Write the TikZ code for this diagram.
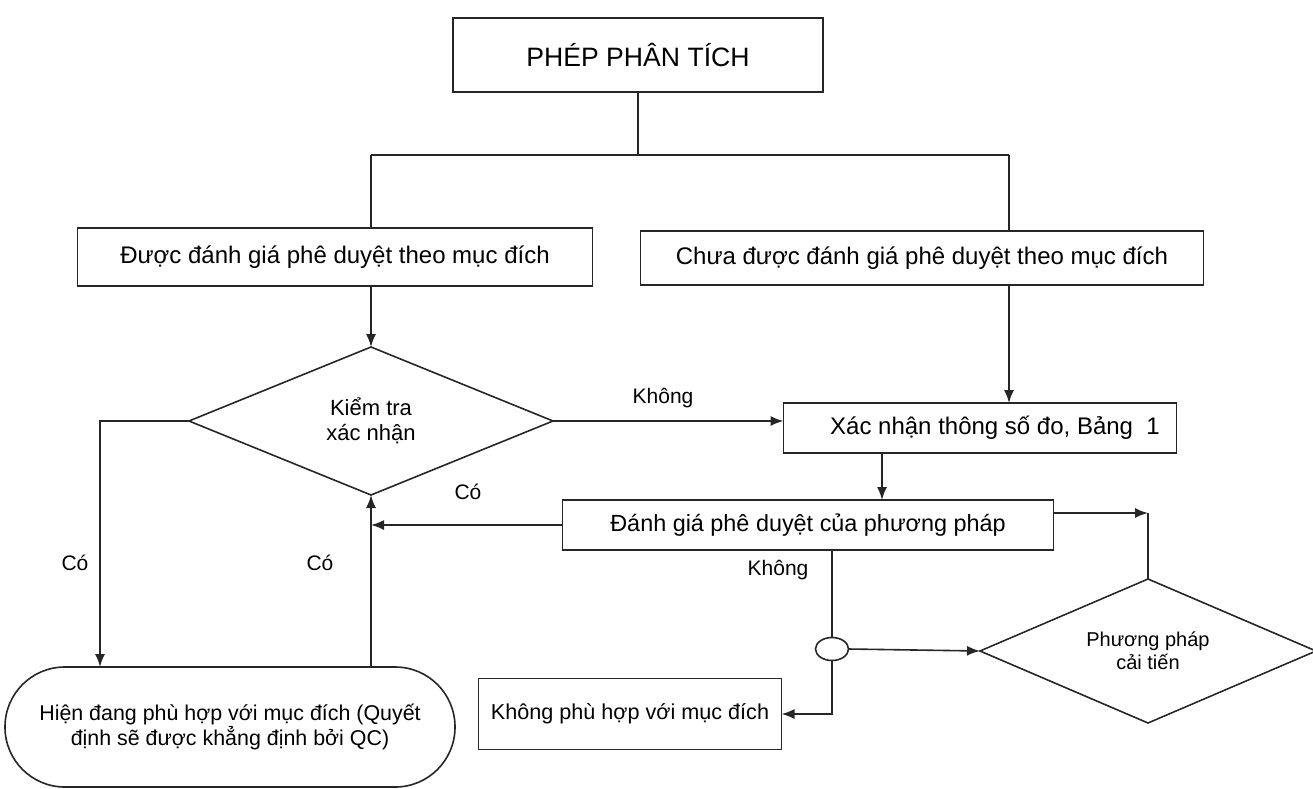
\documentclass[tikz,border=0pt]{standalone}
\usepackage{fontspec}
\setmainfont{Liberation Sans}
\usetikzlibrary{positioning,calc,shapes.geometric,arrows.meta}

\begin{document}
\begin{tikzpicture}[x=0.5pt,y=-0.5pt,line width=0.8pt,draw=black!85,
				every node/.style={inner sep=0pt,outer sep=0pt},
				box/.style={draw,rectangle,font=\fontsize{12}{14}\selectfont},
				decision/.style={draw,diamond,aspect=2.4,align=center,font=\fontsize{11}{12.5}\selectfont},
				lbl/.style={font=\fontsize{10.5}{12}\selectfont},
				arr/.style={-{Latex[length=6.5pt,width=5pt]}}]
				\useasboundingbox (0,0) rectangle (1313,788);
				\node (phep)     [box,minimum width=185pt,minimum height=37pt,font=\fontsize{13.3}{15}\selectfont] at (638,55) {PHÉP PHÂN TÍCH};
				\node (duocdg)   [box,minimum width=257.5pt,minimum height=29pt] at (335,257) {Được đánh giá phê duyệt theo mục đích};
				\node (chuadg)   [box,minimum width=281.5pt,minimum height=27pt] at (922,258) {Chưa được đánh giá phê duyệt theo mục đích};
				\node (kiemtra)  [decision,minimum width=182pt,minimum height=74pt] at (371,421) {Kiểm tra\\xác nhận};
				\node (xacnhan)  [box,minimum width=196.5pt,minimum height=25pt] at (980,428) {\hspace{15pt}Xác nhận thông số đo, Bảng\ \ 1};
				\node (dgpp)     [box,minimum width=245.5pt,minimum height=25pt,font=\fontsize{11.7}{14}\selectfont] at (808,525) {Đánh giá phê duyệt của phương pháp};
				\node (nut)      [draw,ellipse,minimum width=16.5pt,minimum height=11.5pt] at (832,649) {};
				\node (ppct)     [decision,minimum width=168pt,minimum height=72pt,font=\fontsize{10}{11.5}\selectfont] at (1148,651) {Phương pháp\\cải tiến};
				\node (khongph)  [box,minimum width=151.5pt,minimum height=35.5pt,font=\fontsize{10.8}{13}\selectfont] at (630,714) {Không phù hợp với mục đích};
				\node (hiendang) [draw,rectangle,rounded corners=29.9pt,minimum width=225pt,minimum height=60pt,align=center,font=\fontsize{10.7}{12.5}\selectfont] at (230,727) {Hiện đang phù hợp với mục đích (Quyết\\định sẽ được khẳng định bởi QC)};
				\node (khongA)   [lbl] at (663,398) {Không};
				\node (coA)      [lbl] at (468,492) {Có};
				\node (coB)      [lbl] at (320,563) {Có};
				\node (coC)      [lbl] at (75,563)  {Có};
				\node (khongB)   [lbl] at (778,570) {Không};
				\coordinate (nhanhL) at (371,155);
				\coordinate (nhanhR) at (1009,155);
				\coordinate (doc)    at (882,0);
				\coordinate (trai)   at (100,0);
				\coordinate (goc)    at (1148,513);

				\draw (phep.south) -- (phep.south |- nhanhL);
				\draw (nhanhL) -- (nhanhR);
				\draw (nhanhL) -- (nhanhL |- duocdg.north);
				\draw (nhanhR) -- (nhanhR |- chuadg.north);
				\draw[arr] (nhanhL |- duocdg.south) -- (kiemtra.north);
				\draw[arr] (nhanhR |- chuadg.south) -- (nhanhR |- xacnhan.north);
				\draw[arr] (kiemtra.east) -- (kiemtra.east -| xacnhan.west);
				\draw[arr] (doc |- xacnhan.south) -- (doc |- dgpp.north);
				\draw[arr] (dgpp.west) -- (dgpp.west -| kiemtra.south);
				\draw[arr] (kiemtra.south |- hiendang.north) -- (kiemtra.south);
				\draw[arr] (kiemtra.west) -| (trai |- hiendang.north);
				\draw (dgpp.south -| nut.north) -- (nut.north);
				\draw[arr] (nut.south) |- (khongph.east);
				\draw[arr] (nut.east) -- (ppct.west);
				\draw[arr] (dgpp.east |- goc) -- (goc);
				\draw (goc) -- (ppct.north);
			\end{tikzpicture}
\end{document}
